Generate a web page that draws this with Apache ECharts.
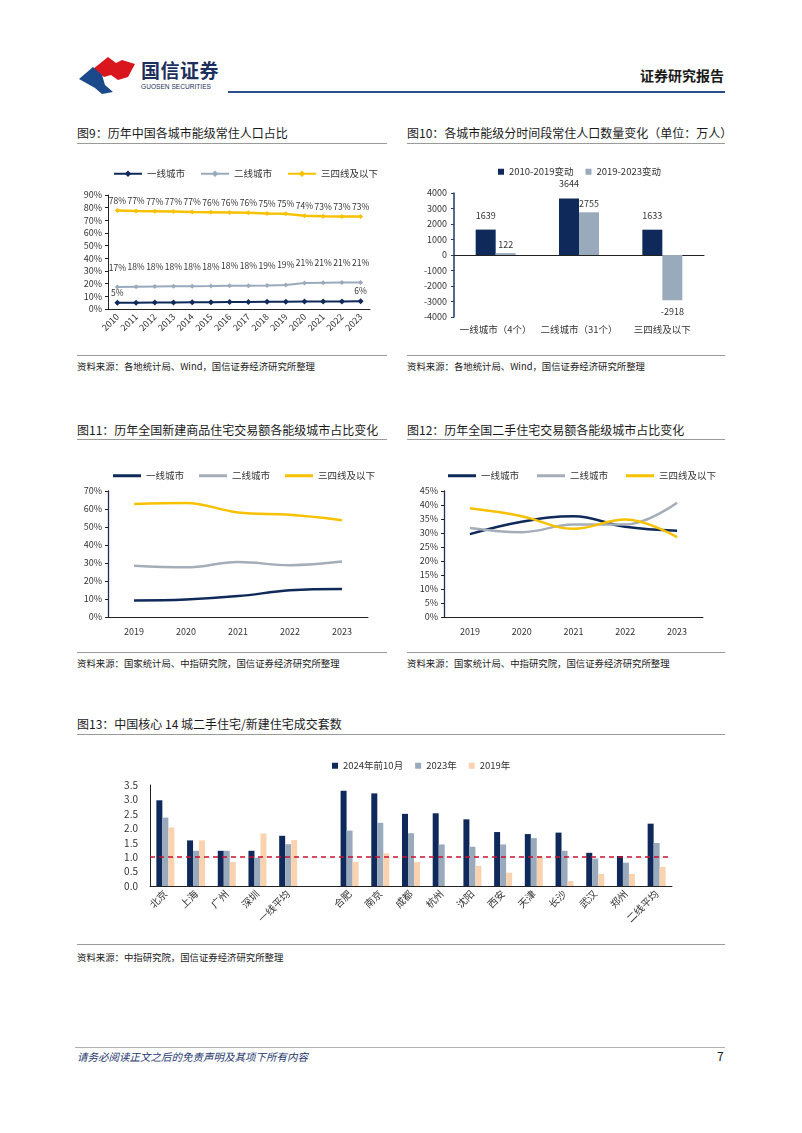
<!DOCTYPE html>
<html><head><meta charset="utf-8">
<script src="https://cdn.jsdelivr.net/npm/echarts@6/dist/echarts.min.js"></script>
<style>
body{margin:0;background:#fff;font-family:"Noto Sans CJK SC","Noto Sans",sans-serif;}
#page{position:relative;width:802px;height:1133px;overflow:hidden;background:#fff;}
.abs{position:absolute;white-space:nowrap;}
.title{font-size:12px;color:#1a1a1a;line-height:14px;}
.src{font-size:9.4px;color:#1a1a1a;line-height:12px;}
.rule{position:absolute;height:0;border-top:1px solid #9a9a9a;}
.chart{position:absolute;}
</style></head><body>
<div id="page">
  <svg class="abs" style="left:78px;top:55px" width="60" height="40" viewBox="0 0 60 40">
    <path d="M15 14 L30 2 L38 8 L44 5 L57 9 L50 22 L40 25 L33 20 L26 22 Z" fill="#d9151e"/>
    <path d="M1 24 L15 12 L24 20 L27 30 L35 37 L24 39 L17 33 Z" fill="#1b4a8c"/>
  </svg>
  <div class="abs" style="left:141px;top:59px;font-size:19px;font-weight:bold;color:#1d2f5c;letter-spacing:0.5px;line-height:22px">国信证券</div>
  <div class="abs" style="left:141px;top:83px;font-size:6.6px;color:#1d2f5c;line-height:8px;font-family:'Liberation Sans',sans-serif">GUOSEN SECURITIES</div>
  <div class="abs" style="left:640px;top:66px;font-size:14px;font-weight:bold;color:#1a1a1a;line-height:18px">证券研究报告</div>
  <div class="abs" style="left:228px;top:91px;width:497px;height:2px;background:#2b4f8e"></div>

  <div class="abs title" style="left:77px;top:126px">图9：历年中国各城市能级常住人口占比</div>
  <div class="rule" style="left:77px;top:143px;width:310px"></div>
  <div class="abs title" style="left:407px;top:126px">图10：各城市能级分时间段常住人口数量变化（单位：万人）</div>
  <div class="rule" style="left:407px;top:143px;width:318px"></div>
  <div id="c9" class="chart" style="left:75px;top:150px;width:320px;height:200px"></div>
  <div id="c10" class="chart" style="left:405px;top:150px;width:330px;height:200px"></div>
  <div class="rule" style="left:77px;top:355px;width:310px"></div>
  <div class="rule" style="left:407px;top:355px;width:318px"></div>
  <div class="abs src" style="left:77px;top:360px">资料来源：各地统计局、Wind，国信证券经济研究所整理</div>
  <div class="abs src" style="left:407px;top:360px">资料来源：各地统计局、Wind，国信证券经济研究所整理</div>

  <div class="abs title" style="left:77px;top:423px">图11：历年全国新建商品住宅交易额各能级城市占比变化</div>
  <div class="rule" style="left:77px;top:439px;width:310px"></div>
  <div class="abs title" style="left:407px;top:423px">图12：历年全国二手住宅交易额各能级城市占比变化</div>
  <div class="rule" style="left:407px;top:439px;width:318px"></div>
  <div id="c11" class="chart" style="left:75px;top:450px;width:320px;height:200px"></div>
  <div id="c12" class="chart" style="left:405px;top:450px;width:330px;height:200px"></div>
  <div class="rule" style="left:77px;top:652px;width:310px"></div>
  <div class="rule" style="left:407px;top:652px;width:318px"></div>
  <div class="abs src" style="left:77px;top:657px">资料来源：国家统计局、中指研究院，国信证券经济研究所整理</div>
  <div class="abs src" style="left:407px;top:657px">资料来源：国家统计局、中指研究院，国信证券经济研究所整理</div>

  <div class="abs title" style="left:77px;top:717px">图13：中国核心 14 城二手住宅/新建住宅成交套数</div>
  <div class="rule" style="left:77px;top:734px;width:648px"></div>
  <div id="c13" class="chart" style="left:75px;top:740px;width:650px;height:200px"></div>
  <div class="rule" style="left:77px;top:944px;width:648px"></div>
  <div class="abs src" style="left:77px;top:951px">资料来源：中指研究院，国信证券经济研究所整理</div>

  <div class="rule" style="left:75px;top:1047px;width:650px;border-top-color:#b0b0b0"></div>
  <div class="abs" style="left:77px;top:1050px;font-size:10.5px;font-style:italic;color:#1f3a6e;line-height:14px">请务必阅读正文之后的免责声明及其项下所有内容</div>
  <div class="abs" style="left:717px;top:1049px;font-size:12px;color:#1a1a1a;line-height:14px">7</div>
</div>
<script>
// ---------- data ----------
const years9 = ['2010','2011','2012','2013','2014','2015','2016','2017','2018','2019','2020','2021','2022','2023'];
const tier1_9 = [4.9,4.9,5.1,5.2,5.3,5.4,5.5,5.6,5.7,5.8,5.9,6.0,6.0,6.1];
const tier2_9 = [17.3,17.6,17.8,17.9,18.0,18.1,18.3,18.4,18.6,19.0,20.6,20.8,20.9,21.0];
const tier3_9 = [77.8,77.4,77.2,77.0,76.6,76.4,76.2,76.0,75.4,75.1,73.6,73.3,73.1,73.0];

const cats10 = ['一线城市（4个）','二线城市（31个）','三四线及以下'];
const chg2010_2019 = [1639,3644,1633];
const chg2019_2023 = [122,2755,-2918];

const years11 = ['2019','2020','2021','2022','2023'];
const tier1_11 = [9.2,9.7,11.6,14.8,15.6];
const tier2_11 = [28.5,27.6,30.5,28.8,30.8];
const tier3_11 = [62.8,63.4,58.1,56.8,53.8];

const years12 = ['2019','2020','2021','2022','2023'];
const tier1_12 = [29.6,34.0,36.0,32.2,30.8];
const tier2_12 = [31.8,30.3,33.0,33.0,40.8];
const tier3_12 = [38.8,36.0,31.5,34.8,28.5];

const cities13 = ['北京','上海','广州','深圳','一线平均','','合肥','南京','成都','杭州','沈阳','西安','天津','长沙','武汉','郑州','二线平均'];
const ratio2024 = [2.97,1.58,1.22,1.22,1.74,null,3.30,3.21,2.50,2.52,2.31,1.87,1.80,1.85,1.15,1.04,2.16];
const ratio2023 = [2.37,1.22,1.22,0.98,1.45,null,1.92,2.19,1.83,1.44,1.36,1.44,1.66,1.22,0.95,0.81,1.49];
const ratio2019 = [2.03,1.58,0.83,1.82,1.59,null,0.83,1.13,0.83,null,0.70,0.46,1.02,0.17,0.42,0.42,0.66];
const refLine13 = 1.0;

// ---------- style ----------
const NAVY = '#0f2a5a', GRAY = '#9aaabd', YEL = '#f7c100', PEACH = '#f9d3b0', RED = '#c8102e';
const FONT = '"Noto Sans CJK SC","Noto Sans",sans-serif';
const axisTxt = {color:'#333', fontSize:9, fontFamily:FONT};
const legTxt = {color:'#333', fontSize:9.5, fontFamily:FONT};

// ---------- fig 9 ----------
const c9 = echarts.init(document.getElementById('c9'));
const pct = v => Math.round(v) + '%';
c9.setOption({
  animation:false,
  legend:{left:33, top:14, itemWidth:28, itemHeight:8, itemGap:15, textStyle:legTxt,
    data:['一线城市','二线城市','三四线及以下']},
  grid:{left:33, right:25, top:45, bottom:41},
  xAxis:{type:'category', data:years9,
    axisLine:{lineStyle:{color:'#222'}}, axisTick:{lineStyle:{color:'#222'}},
    axisLabel:Object.assign({}, axisTxt, {rotate:45, margin:6})},
  yAxis:{type:'value', min:0, max:90, interval:10, splitLine:{show:false},
    axisLine:{show:true, lineStyle:{color:'#222'}}, axisTick:{show:true, length:3, lineStyle:{color:'#222'}},
    axisLabel:Object.assign({}, axisTxt, {formatter:'{value}%', margin:6})},
  series:[
    {name:'一线城市', type:'line', data:tier1_9, symbol:'diamond', symbolSize:6,
      lineStyle:{color:NAVY, width:2}, itemStyle:{color:NAVY},
      label:{show:true, position:'top', distance:3, fontSize:8.5, color:'#333', fontFamily:FONT,
        formatter:p => (p.dataIndex===0 || p.dataIndex===tier1_9.length-1) ? pct(p.value) : ''}},
    {name:'二线城市', type:'line', data:tier2_9, symbol:'diamond', symbolSize:5,
      lineStyle:{color:GRAY, width:2}, itemStyle:{color:GRAY},
      label:{show:true, position:'top', distance:13, fontSize:8.5, color:'#333', fontFamily:FONT, formatter:p => pct(p.value)}},
    {name:'三四线及以下', type:'line', data:tier3_9, symbol:'diamond', symbolSize:5,
      lineStyle:{color:YEL, width:2.5}, itemStyle:{color:YEL},
      label:{show:true, position:'top', distance:3, fontSize:8.5, color:'#333', fontFamily:FONT, formatter:p => pct(p.value)}}
  ]
});

// ---------- fig 10 ----------
const c10 = echarts.init(document.getElementById('c10'));
const barLbl = {show:true, fontSize:9, color:'#333', fontFamily:FONT};
c10.setOption({
  animation:false,
  legend:{left:88, top:12, itemWidth:6, itemHeight:6, itemGap:12, icon:'rect', textStyle:legTxt,
    data:['2010-2019变动','2019-2023变动']},
  grid:{left:49, right:31, top:43, bottom:33},
  xAxis:[
    {type:'category', data:cats10,
      axisLine:{onZero:true, lineStyle:{color:'#222'}}, axisTick:{lineStyle:{color:'#222'}},
      axisLabel:{show:false}},
    {type:'category', data:cats10, position:'bottom',
      axisLine:{show:false, onZero:false}, axisTick:{show:false},
      axisLabel:Object.assign({}, axisTxt, {fontSize:9.5, margin:8, interval:0})}
  ],
  yAxis:{type:'value', min:-4000, max:4000, interval:1000, splitLine:{show:false},
    axisLine:{show:true, lineStyle:{color:'#1f3a6e', width:1.5}}, axisTick:{show:true, length:3, lineStyle:{color:'#1f3a6e'}},
    axisLabel:Object.assign({}, axisTxt, {margin:7, formatter:v => String(v)})},
  series:[
    {name:'2010-2019变动', type:'bar', xAxisIndex:0, data:chg2010_2019, barWidth:20, barGap:'0%', itemStyle:{color:NAVY},
      label:Object.assign({}, barLbl, {position:'top', distance:10})},
    {name:'2019-2023变动', type:'bar', xAxisIndex:0, barWidth:20, itemStyle:{color:GRAY},
      data:chg2019_2023.map(v => ({value:v, label:{position: v < 0 ? 'bottom' : 'top', distance: v < 0 ? 7 : 4}})),
      label:barLbl}
  ]
});

// ---------- fig 11 / 12 ----------
const lineSeries = (name, data, color) => ({name, type:'line', data, smooth:0.4, symbol:'none',
  lineStyle:{color, width:2.5}, itemStyle:{color}});
const lineChart = (el, cats, s1, s2, s3, ymax, step, grid) => {
  const c = echarts.init(document.getElementById(el));
  c.setOption({
    animation:false,
    legend:{left:grid.legendLeft, top:16, itemWidth:28, itemHeight:3, itemGap:grid.gap, icon:'rect', textStyle:legTxt,
      data:['一线城市','二线城市','三四线及以下']},
    grid:{left:grid.left, right:grid.right, top:grid.top, bottom:grid.bottom},
    xAxis:{type:'category', data:cats,
      axisLine:{lineStyle:{color:'#222'}}, axisTick:{inside:true, lineStyle:{color:'#222'}},
      axisLabel:Object.assign({}, axisTxt, {margin:10})},
    yAxis:{type:'value', min:0, max:ymax, interval:step, splitLine:{show:false},
      axisLine:{show:true, lineStyle:{color:'#1f2f55', width:1.3}}, axisTick:{show:true, length:3, lineStyle:{color:'#222'}},
      axisLabel:Object.assign({}, axisTxt, {formatter:'{value}%', margin:6})},
    series:[lineSeries('一线城市', s1, NAVY), lineSeries('二线城市', s2, '#a5adb8'), lineSeries('三四线及以下', s3, YEL)]
  });
};
lineChart('c11', years11, tier1_11, tier2_11, tier3_11, 70, 10, {left:33, right:27, top:41, bottom:33, legendLeft:33, gap:15});
lineChart('c12', years12, tier1_12, tier2_12, tier3_12, 45, 5, {left:39, right:32, top:41, bottom:33, legendLeft:38, gap:18});

// ---------- fig 13 ----------
const c13 = echarts.init(document.getElementById('c13'));
c13.setOption({
  animation:false,
  legend:{left:252, top:16, itemWidth:6, itemHeight:6, itemGap:12, icon:'rect', textStyle:legTxt,
    data:['2024年前10月','2023年','2019年']},
  grid:{left:75, right:53, top:45, bottom:54},
  xAxis:{type:'category', data:cities13,
    axisLine:{lineStyle:{color:'#222'}}, axisTick:{lineStyle:{color:'#222'}},
    axisLabel:Object.assign({}, axisTxt, {fontSize:10, rotate:45, margin:6, interval:0})},
  yAxis:{type:'value', min:0, max:3.5, interval:0.5, splitLine:{show:false},
    axisLine:{show:true, lineStyle:{color:'#222'}}, axisTick:{show:false},
    axisLabel:Object.assign({}, axisTxt, {fontSize:10, formatter:v => v.toFixed(1), margin:12})},
  series:[
    {name:'2024年前10月', type:'bar', data:ratio2024, barWidth:6, barGap:'0%', itemStyle:{color:NAVY},
      markLine:{silent:true, symbol:'none', label:{show:false},
        lineStyle:{color:RED, type:[5,4], width:1.5}, data:[{yAxis:refLine13}]}},
    {name:'2023年', type:'bar', data:ratio2023, barWidth:6, itemStyle:{color:GRAY}},
    {name:'2019年', type:'bar', data:ratio2019, barWidth:6, itemStyle:{color:PEACH}}
  ]
});
</script>
</body></html>
